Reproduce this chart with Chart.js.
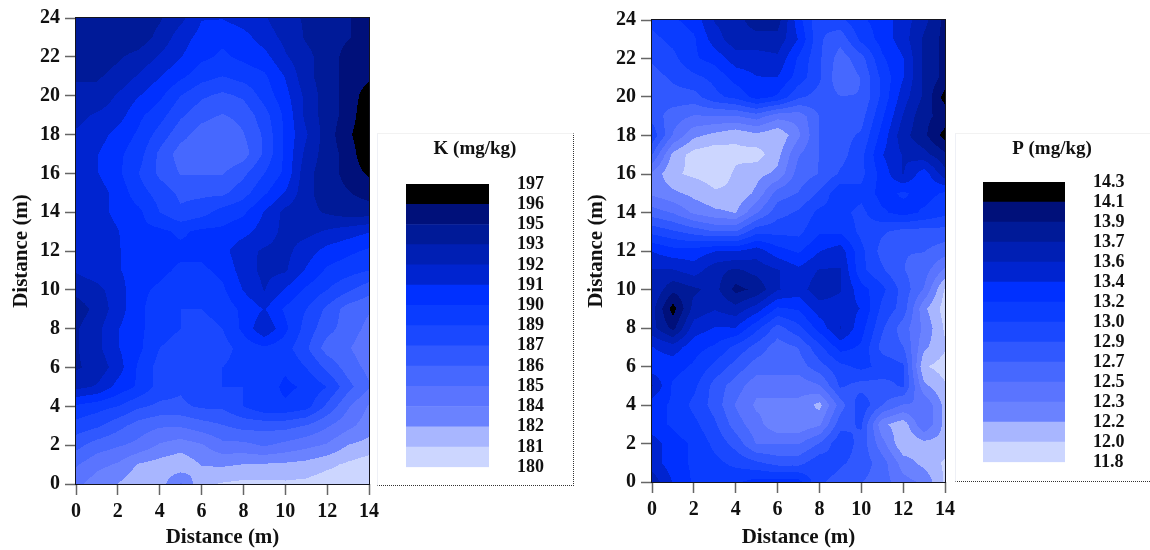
<!DOCTYPE html>
<html>
<head>
<meta charset="utf-8">
<title>K and P maps</title>
<script src="https://cdn.jsdelivr.net/npm/chart.js@4"></script>
<style>
html, body { margin: 0; padding: 0; background: #fff; overflow: hidden; }
#page { position: relative; width: 1150px; height: 550px; }
canvas { position: absolute; display: block; }
#kMap { left: 0; top: 0; }
#pMap { left: 575px; top: 0; }
.box { position: absolute; box-sizing: border-box; border-left: 1px solid #eef0f6; border-top: 1px solid #f2f2f2; border-bottom: 1px dotted #333; }
#kBox { left: 377px; top: 133px; width: 197px; height: 353px; border-right: 1px dotted #333; }
#pBox { left: 955px; top: 133px; width: 195px; height: 349px; }
#kKey { left: 377px; top: 133px; }
#pKey { left: 955px; top: 133px; }
</style>
</head>
<body>
<div id="page">
  <div class="box" id="kBox"></div>
  <div class="box" id="pBox"></div>
  <canvas id="kMap" width="385" height="550"></canvas>
  <canvas id="pMap" width="385" height="550"></canvas>
  <canvas id="kKey" width="196" height="365"></canvas>
  <canvas id="pKey" width="194" height="360"></canvas>
</div>
<script>
//Tick labels on the map axes
const xTicks = [0, 2, 4, 6, 8, 10, 12, 14]
const yTicks = [0, 2, 4, 6, 8, 10, 12, 14, 16, 18, 20, 22, 24]
const axisTitle = 'Distance (m)'

//Contour level labels, bottom to top
const kLevels = ['180','181','182','184','185','186','187','189','190','191','192','193','195','196','197']
const pLevels = ['11.8','12.0','12.2','12.3','12.5','12.7','12.9','13.0','13.2','13.4','13.6','13.7','13.9','14.1','14.3']

//Band colours, bottom to top
const bandColors = ['#ccd6ff','#a8b6ff','#6a82ff','#5a74ff','#4668ff','#3058ff','#1a48ff','#0a3cff','#0030ff','#0024d0','#001fb4','#001a98','#00107a','#000000']

//K readings, rows from y=24 down to y=0, columns x=0..14
const kRows = [
  [193.5,194,194,194,193.5,192.5,191,191,191.5,192,193,193.5,194,194.5,195],
  [193.5,194,194,194,193,191.5,190.5,190,190.5,191.5,192.5,193.5,194,194.5,195],
  [193.5,194,193.5,193,192,191,190,189.5,190,190.5,192,193,194,195,195.5],
  [193.5,193.5,193,192,191,190,189,188.5,189,189.5,191,193,194,195,195.5],
  [193,193,192,191,190,188.5,187.5,187,187.5,189,190.5,192.5,194,195,196.5],
  [192.5,192,191.5,190,189,187.5,186.5,186,186.5,188,190,192.5,194,195,197],
  [192,191.5,190.5,189.5,188,186.5,185.5,185,186,187.5,190,192,194,195.5,197],
  [191.5,191,190,189,187,185.5,185.5,185,185.5,187.5,190,192.5,194,195,197],
  [192,191,190,188.5,187,186,186,186,187,188.5,190,193,194,195,196],
  [192,191.5,190.5,189,188,187,187,187,188,189.5,191,193,194,194.5,195],
  [192,191.5,190.5,190,188.5,187.5,188,189,189.5,191,192.5,193,193.5,194,194],
  [192,192,191,190,190,189.5,190,190,190.5,191.5,192.5,192.5,192,191.5,191],
  [192,191.5,191,190.5,190,190,190,190.5,191.8,192.3,192.5,191.5,190.5,190,189.5],
  [192,191.5,191,190.5,190,189.5,189.5,190,191.5,192.5,192.3,190.8,189.5,189,188.5],
  [193,192.5,191.5,190,189.5,189,189,189.5,191,192.2,190.8,189.5,188.5,187.5,186.5],
  [194,193,191.5,190,189,188.5,188.5,189,190,191,189.5,188.5,187,185.5,185],
  [193.5,192.5,191,190,189,188.5,188,188.5,190,192,190,188,186.5,185.5,184.5],
  [193.5,192.5,191,190,188.5,188,187.5,188,189,189.5,189,187.5,185.5,185,184],
  [193.5,193,191.5,189.5,188,187.5,188,188.5,189,189,189.5,188.5,187,185.5,184.5],
  [192.5,192,190.5,189.5,188,187.5,188.5,188.5,188.5,189,190,189.5,188.5,186.5,185],
  [189.5,189,188.5,187.5,187,187,187.5,187.5,188.5,189.5,189.5,189,187,185,183.5],
  [188,187.5,186.5,185.5,185,185,185.5,186,186.5,186.5,186.5,186,185,184,183],
  [186.5,185.5,185,184.5,183.5,183,183.5,184.5,184.5,185,184.5,184,183.5,182.4,182],
  [185,184,183.5,182.3,181.9,181.5,182.5,182.6,182.4,182.3,182.2,182,181.5,181,180.5],
  [184,183,182.4,181.5,181.8,183.8,181.5,181.1,180.9,180.9,181,180.9,180.5,180.5,180]
]

//P readings, same layout
const pRows = [
  [13.1,13.2,13.3,13.6,13.7,13.85,13.85,13.3,12.9,13.0,13.2,13.3,13.5,13.7,14.0],
  [13.0,13.1,13.2,13.5,13.7,13.7,13.7,13.4,12.9,12.75,13.1,13.3,13.5,13.8,14.0],
  [12.9,13.0,13.2,13.3,13.5,13.5,13.55,13.2,12.9,12.6,12.8,13.2,13.4,13.8,14.0],
  [12.8,12.9,13.0,13.1,13.3,13.4,13.4,13.15,12.9,12.55,12.7,13.1,13.4,13.8,14.0],
  [12.7,12.8,12.8,13.0,13.1,13.3,13.2,12.9,12.8,12.7,12.7,13.1,13.5,13.8,14.2],
  [12.8,12.6,12.5,12.5,12.5,12.6,12.4,12.4,12.7,12.7,12.8,13.2,13.6,13.9,14.0],
  [13.0,12.5,12.2,12.1,12.0,12.1,12.0,12.3,12.7,12.8,12.9,13.3,13.7,13.9,14.2],
  [12.7,12.1,11.9,11.85,11.95,11.9,12.1,12.5,12.7,12.8,13.0,13.4,13.6,13.7,13.9],
  [12.3,12.0,11.95,11.9,12.0,12.1,12.2,12.6,12.7,12.9,13.0,13.3,13.6,13.3,13.7],
  [12.3,12.2,12.1,12.0,12.0,12.2,12.6,12.7,12.9,13.2,13.1,13.3,13.2,13.3,13.2],
  [12.6,12.5,12.3,12.2,12.15,12.5,12.8,12.9,13.1,13.1,13.0,13.2,13.3,13.2,13.1],
  [13.0,12.9,12.8,12.7,12.7,13.0,13.0,13.0,13.2,13.2,13.0,12.9,12.8,12.8,12.8],
  [13.4,13.3,13.3,13.4,13.4,13.5,13.3,13.2,13.4,13.5,13.1,12.8,12.7,12.7,12.6],
  [13.6,13.6,13.5,13.7,13.8,13.7,13.6,13.45,13.6,13.6,13.1,12.9,12.7,12.6,12.3],
  [13.6,13.9,13.8,13.7,14.0,13.9,13.6,13.5,13.7,13.6,13.3,13.1,12.8,12.5,11.95],
  [13.7,14.2,13.7,13.6,13.7,13.5,13.2,13.25,13.5,13.5,13.4,13.0,12.8,12.2,11.9],
  [13.7,14.0,13.5,13.4,13.4,13.1,12.8,13.0,13.3,13.6,13.3,12.9,12.6,12.3,11.95],
  [13.4,13.5,13.3,13.2,13.0,12.8,12.6,12.7,13.0,13.3,13.2,12.8,12.7,12.2,12.0],
  [13.3,13.3,13.2,13.0,12.8,12.6,12.6,12.6,12.8,13.0,13.1,13.0,12.9,12.0,11.9],
  [13.6,13.2,13.1,12.8,12.6,12.4,12.4,12.4,12.5,12.9,12.8,12.8,12.9,12.2,12.0],
  [13.3,13.2,13.0,12.8,12.5,12.3,12.3,12.3,12.1,12.6,13.0,12.7,12.5,12.5,12.1],
  [13.3,13.2,13.1,12.9,12.6,12.4,12.2,12.2,12.3,12.8,12.9,12.2,12.05,12.5,12.1],
  [13.5,13.3,13.2,13.0,12.8,12.5,12.5,12.5,12.7,13.0,12.8,12.4,12.0,12.1,12.1],
  [13.5,13.3,13.2,13.1,13.0,12.9,12.8,12.8,13.0,12.9,12.8,12.6,12.25,12.1,11.95],
  [13.7,13.4,13.2,13.1,13.2,13.3,13.3,13.3,12.9,12.8,12.7,12.6,12.4,12.3,11.95]
]

const serif = 'Liberation Serif'
const rgb = bandColors.map(c => [1, 3, 5].map(i => parseInt(c.slice(i, i + 2), 16)))

//Paints the filled contour bands inside the plot area, going through the chart's own scales
const contourPlugin = {
    id: 'contour',
    beforeDatasetsDraw(chart, args, opts) {
        const { ctx, chartArea: a, scales: { x, y } } = chart
        const left = Math.round(a.left), top = Math.round(a.top)
        const w = Math.round(a.right) - left, h = Math.round(a.bottom) - top
        const off = document.createElement('canvas')
        off.width = w
        off.height = h
        const octx = off.getContext('2d')
        const img = octx.createImageData(w, h)
        const step = (opts.max - opts.min) / bandColors.length
        const rows = opts.rows
        for (let py = 0; py < h; py++) {
            const row = Math.min(Math.max(24 - y.getValueForPixel(top + py + 0.5), 0), 23.999)
            const r0 = Math.floor(row), fr = row - r0
            for (let px = 0; px < w; px++) {
                const col = Math.min(Math.max(x.getValueForPixel(left + px + 0.5), 0), 13.999)
                const c0 = Math.floor(col), fc = col - c0
                const v = rows[r0][c0] * (1 - fr) * (1 - fc) + rows[r0][c0 + 1] * (1 - fr) * fc +
                          rows[r0 + 1][c0] * fr * (1 - fc) + rows[r0 + 1][c0 + 1] * fr * fc
                const band = Math.min(Math.max(Math.floor((v - opts.min) / step), 0), bandColors.length - 1)
                const i = (py * w + px) * 4
                img.data[i] = rgb[band][0]
                img.data[i + 1] = rgb[band][1]
                img.data[i + 2] = rgb[band][2]
                img.data[i + 3] = 255
            }
        }
        octx.putImageData(img, 0, 0)
        ctx.save()
        ctx.beginPath()
        ctx.rect(left, top, w, h)
        ctx.clip()
        ctx.filter = 'blur(0.7px)'
        ctx.drawImage(off, left, top)
        ctx.restore()
        ctx.save()
        ctx.strokeStyle = '#14141e'
        ctx.lineWidth = 1
        ctx.strokeRect(left - 0.5, top - 0.5, w + 1, h + 1)
        ctx.restore()
    }
}

function drawMap(id, rows, min, max, plotTop, plotBottom, plotLeft, plotRight) {
    new Chart(document.getElementById(id).getContext('2d'), {
        type: 'scatter',
        data: { datasets: [{ data: [], pointRadius: 0 }] },
        plugins: [contourPlugin],
        options: {
            responsive: false,
            animation: false,
            layout: { padding: { top: plotTop, right: 385 - plotRight, left: 0, bottom: 0 } },
            plugins: {
                legend: { display: false },
                tooltip: { enabled: false },
                contour: { rows: rows, min: min, max: max }
            },
            scales: {
                x: {
                    type: 'linear', min: 0, max: 14,
                    afterBuildTicks: s => { s.ticks = xTicks.map(v => ({ value: v })) },
                    afterFit: s => { s.height = 550 - plotBottom },
                    grid: { drawOnChartArea: false, tickLength: 11, tickColor: '#666', tickWidth: 1.5 },
                    border: { display: false },
                    ticks: { color: '#111', padding: 5, maxRotation: 0, autoSkip: false, font: { family: serif, weight: 'bold', size: 20 } },
                    title: { display: true, text: axisTitle, color: '#111', padding: 0, font: { family: serif, weight: 'bold', size: 21 } }
                },
                y: {
                    type: 'linear', min: 0, max: 24,
                    afterBuildTicks: s => { s.ticks = yTicks.map(v => ({ value: v })) },
                    afterFit: s => { s.width = plotLeft },
                    grid: { drawOnChartArea: false, tickLength: 11, tickColor: '#666', tickWidth: 1.5 },
                    border: { display: false },
                    ticks: { color: '#111', padding: 5, autoSkip: false, font: { family: serif, weight: 'bold', size: 20 } },
                    title: { display: true, text: axisTitle, color: '#111', padding: { top: 9, bottom: 9 }, font: { family: serif, weight: 'bold', size: 21 } }
                }
            }
        }
    })
}

function drawKey(id, titleText, levels, barLeft, topGap) {
    new Chart(document.getElementById(id).getContext('2d'), {
        type: 'bar',
        data: {
            labels: [''],
            datasets: bandColors.map(c => ({ data: [1], yAxisID: 'y', backgroundColor: c, barPercentage: 1, categoryPercentage: 1 }))
        },
        options: {
            responsive: false,
            animation: false,
            layout: { padding: { left: 0, right: 0, top: 0, bottom: 5 } },
            plugins: {
                legend: { display: false },
                tooltip: { enabled: false },
                title: {
                    display: true, text: titleText, color: '#111',
                    padding: { top: 4, bottom: topGap - 28.3 },
                    font: { family: serif, weight: 'bold', size: 19, lineHeight: 1.28 }
                }
            },
            scales: {
                x: { stacked: true, display: false, afterFit: s => { s.height = 0 } },
                spacer: {
                    position: 'left',
                    afterFit: s => { s.width = barLeft },
                    grid: { display: false },
                    border: { display: false },
                    ticks: { display: false }
                },
                y: {
                    stacked: true, position: 'right', min: 0, max: levels.length - 1,
                    afterFit: s => { s.width = 84 },
                    grid: { display: false },
                    border: { display: false },
                    ticks: {
                        stepSize: 1, autoSkip: false, padding: 20, color: '#111',
                        callback: v => levels[v],
                        font: { family: serif, weight: 'bold', size: 18 }
                    }
                }
            }
        }
    })
}

drawMap('kMap', kRows, 180, 197, 18, 484, 76, 369)
drawMap('pMap', pRows, 11.8, 14.3, 20, 482, 77, 370)
drawKey('kKey', 'K (mg/kg)', kLevels, 29, 51)
drawKey('pKey', 'P (mg/kg)', pLevels, 28, 49)
</script>
</body>
</html>
